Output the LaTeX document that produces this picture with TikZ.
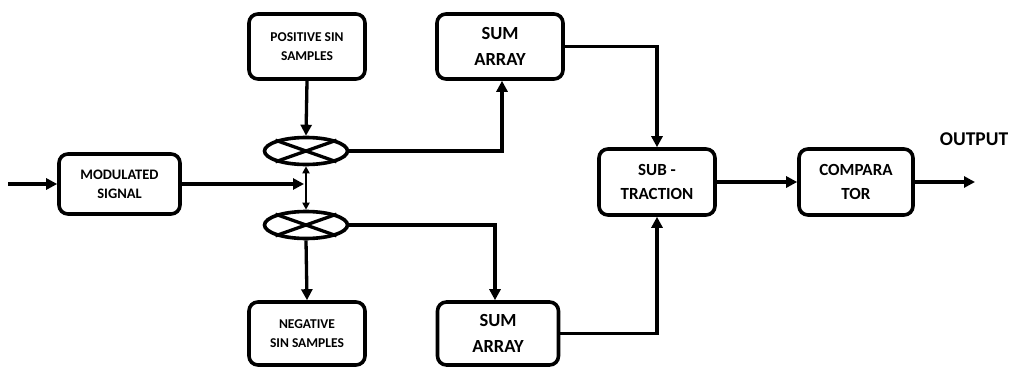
\documentclass[tikz,border=0pt]{standalone}
\usepackage{fontspec}
\setmainfont{Carlito}
\usetikzlibrary{arrows.meta,shapes.geometric,calc}
\begin{document}
\begin{tikzpicture}[x=1pt,y=-1pt,
  blk/.style={draw,line width=3.6pt,rounded corners=9pt,inner sep=0pt,
    align=center,font=\bfseries,text depth=0pt},
  mixer/.style={draw,ellipse,line width=3.6pt,inner sep=0pt,
    minimum width=83pt,minimum height=27pt},
  conn/.style={line width=3.3pt,-{Triangle[length=11pt,width=11pt]}},
  dconn/.style={line width=2.2pt,{Triangle[length=7pt,width=7pt]}-{Triangle[length=7pt,width=7pt]}}]
\useasboundingbox (0,0) rectangle (1009,369);

% blocks
\node[blk,minimum width=121pt,minimum height=60pt,font=\bfseries\fontsize{14.5}{19}\selectfont]
  (mod) at (119.5,184) {MODULATED\\SIGNAL};
\node[blk,minimum width=116pt,minimum height=65pt,font=\bfseries\fontsize{13.5}{19}\selectfont]
  (pos) at (307,46.5) {POSITIVE SIN\\SAMPLES};
\node[blk,minimum width=126pt,minimum height=65pt,font=\bfseries\fontsize{18.5}{26}\selectfont]
  (sumA) at (500,46.5) {SUM\\ARRAY};
\node[blk,minimum width=116pt,minimum height=63pt,font=\bfseries\fontsize{13.5}{19}\selectfont]
  (neg) at (307,333.5) {NEGATIVE\\SIN SAMPLES};
\node[blk,minimum width=121pt,minimum height=63pt,font=\bfseries\fontsize{18.5}{26}\selectfont]
  (sumB) at (498,333.5) {SUM\\ARRAY};
\node[blk,minimum width=116pt,minimum height=66pt,font=\bfseries\fontsize{17}{24}\selectfont]
  (sub) at (657,182) {SUB -\\TRACTION};
\node[blk,minimum width=114pt,minimum height=66pt,font=\bfseries\fontsize{17}{24}\selectfont]
  (comp) at (856,182) {COMPARA\\TOR};

% multipliers
\node[mixer] (mxA) at (306,151) {};
\node[mixer] (mxB) at (306,225) {};
\foreach \m in {mxA,mxB}{
  \draw[line width=3.3pt] (\m.north west) -- (\m.south east);
  \draw[line width=3.3pt] (\m.south west) -- (\m.north east);
}

% free ends and label
\coordinate (in) at (8,184);
\coordinate (out) at (975,182);
\node[font=\bfseries\fontsize{19.5}{24}\selectfont,anchor=center] (outlbl) at (974,139) {OUTPUT};

% connectors
\draw[conn] (in) -- (mod.west);
\draw[conn,shorten >=2pt] (mod.east) -- (mod.east -| mxA.south);
\draw[dconn] (mxA.south) -- (mxB.north);
\draw[conn] (pos.south) -- (mxA.north);
\draw[conn] (mxB.south) -- (neg.north);
\draw[conn] (mxA.east) -| ([xshift=2pt]sumA.south);
\draw[conn] (mxB.east) -| ([xshift=-3pt]sumB.north);
\draw[conn] (sumA.east) -| (sub.north);
\draw[conn] (sumB.east) -| (sub.south);
\draw[conn] (sub.east) -- (comp.west);
\draw[conn] (comp.east) -- (out);
\end{tikzpicture}
\end{document}
